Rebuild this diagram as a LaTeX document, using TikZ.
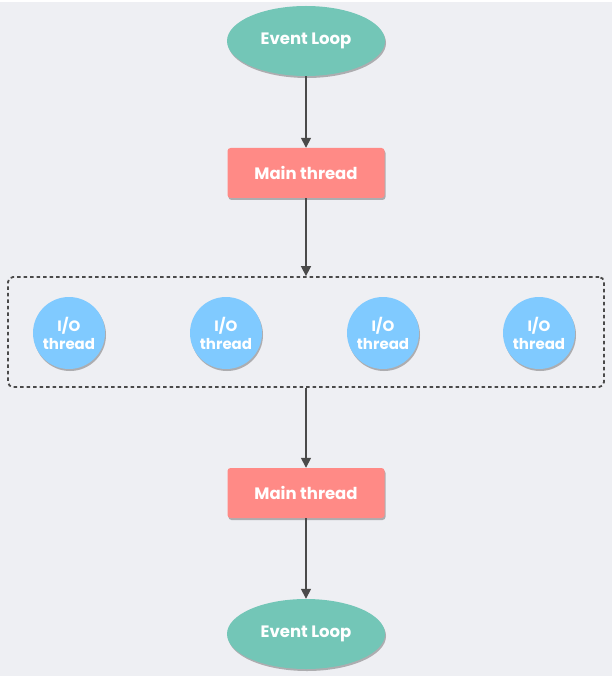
\documentclass[tikz,border=0pt]{standalone}
\usepackage{fontspec}
\setmainfont{Poppins}
\usetikzlibrary{shapes.geometric,shadows,arrows.meta}
\definecolor{bg}{HTML}{EEEFF3}
\definecolor{loopc}{HTML}{73C6B7}
\definecolor{mainc}{HTML}{FF8A86}
\definecolor{ioc}{HTML}{80CAFF}
\definecolor{linec}{HTML}{4A4A4A}
\begin{document}
\begin{tikzpicture}[x=1pt,y=-1pt,
  shad/.style={drop shadow={opacity=0.4,shadow xshift=1pt,shadow yshift=-2pt,fill=black!70}},
  loopnode/.style={ellipse,fill=loopc,minimum width=158pt,minimum height=70pt,inner sep=0pt,shad,
    text=white,font=\bfseries\fontsize{16.5}{19}\selectfont},
  mainnode/.style={rectangle,rounded corners=3pt,fill=mainc,minimum width=157pt,minimum height=50pt,inner sep=0pt,shad,
    text=white,font=\bfseries\fontsize{16.5}{19}\selectfont},
  ionode/.style={circle,fill=ioc,minimum size=72pt,inner sep=0pt,shad,
    text=white,font=\bfseries\fontsize{15}{18}\selectfont,align=center},
  conn/.style={draw=linec,line width=1.6pt,-{Triangle[length=10pt,width=10pt]}},
  group/.style={draw=linec,line width=1.8pt,dash pattern=on 3.5pt off 3pt,rounded corners=5pt,inner sep=0pt}
]
\fill[bg] (0,0) rectangle (612,676);
\fill[white] (0,0) rectangle (612,2);
\node[loopnode] (loop1) at (306,41) {Event Loop};
\node[mainnode] (main1) at (306,173) {Main thread};
\node[ionode] (io1) at (69,333) {I/O\\thread};
\node[ionode] (io2) at (226,333) {I/O\\thread};
\node[ionode] (io3) at (383,333) {I/O\\thread};
\node[ionode] (io4) at (539,333) {I/O\\thread};
\node[group,minimum width=596pt,minimum height=110pt] (grp) at (306,332) {};
\node[mainnode] (main2) at (306,493) {Main thread};
\node[loopnode] (loop2) at (306,634) {Event Loop};
\draw[conn] (loop1) -- (main1);
\draw[conn] (main1) -- (grp);
\draw[conn] (grp) -- (main2);
\draw[conn] (main2) -- (loop2);
\end{tikzpicture}
\end{document}
